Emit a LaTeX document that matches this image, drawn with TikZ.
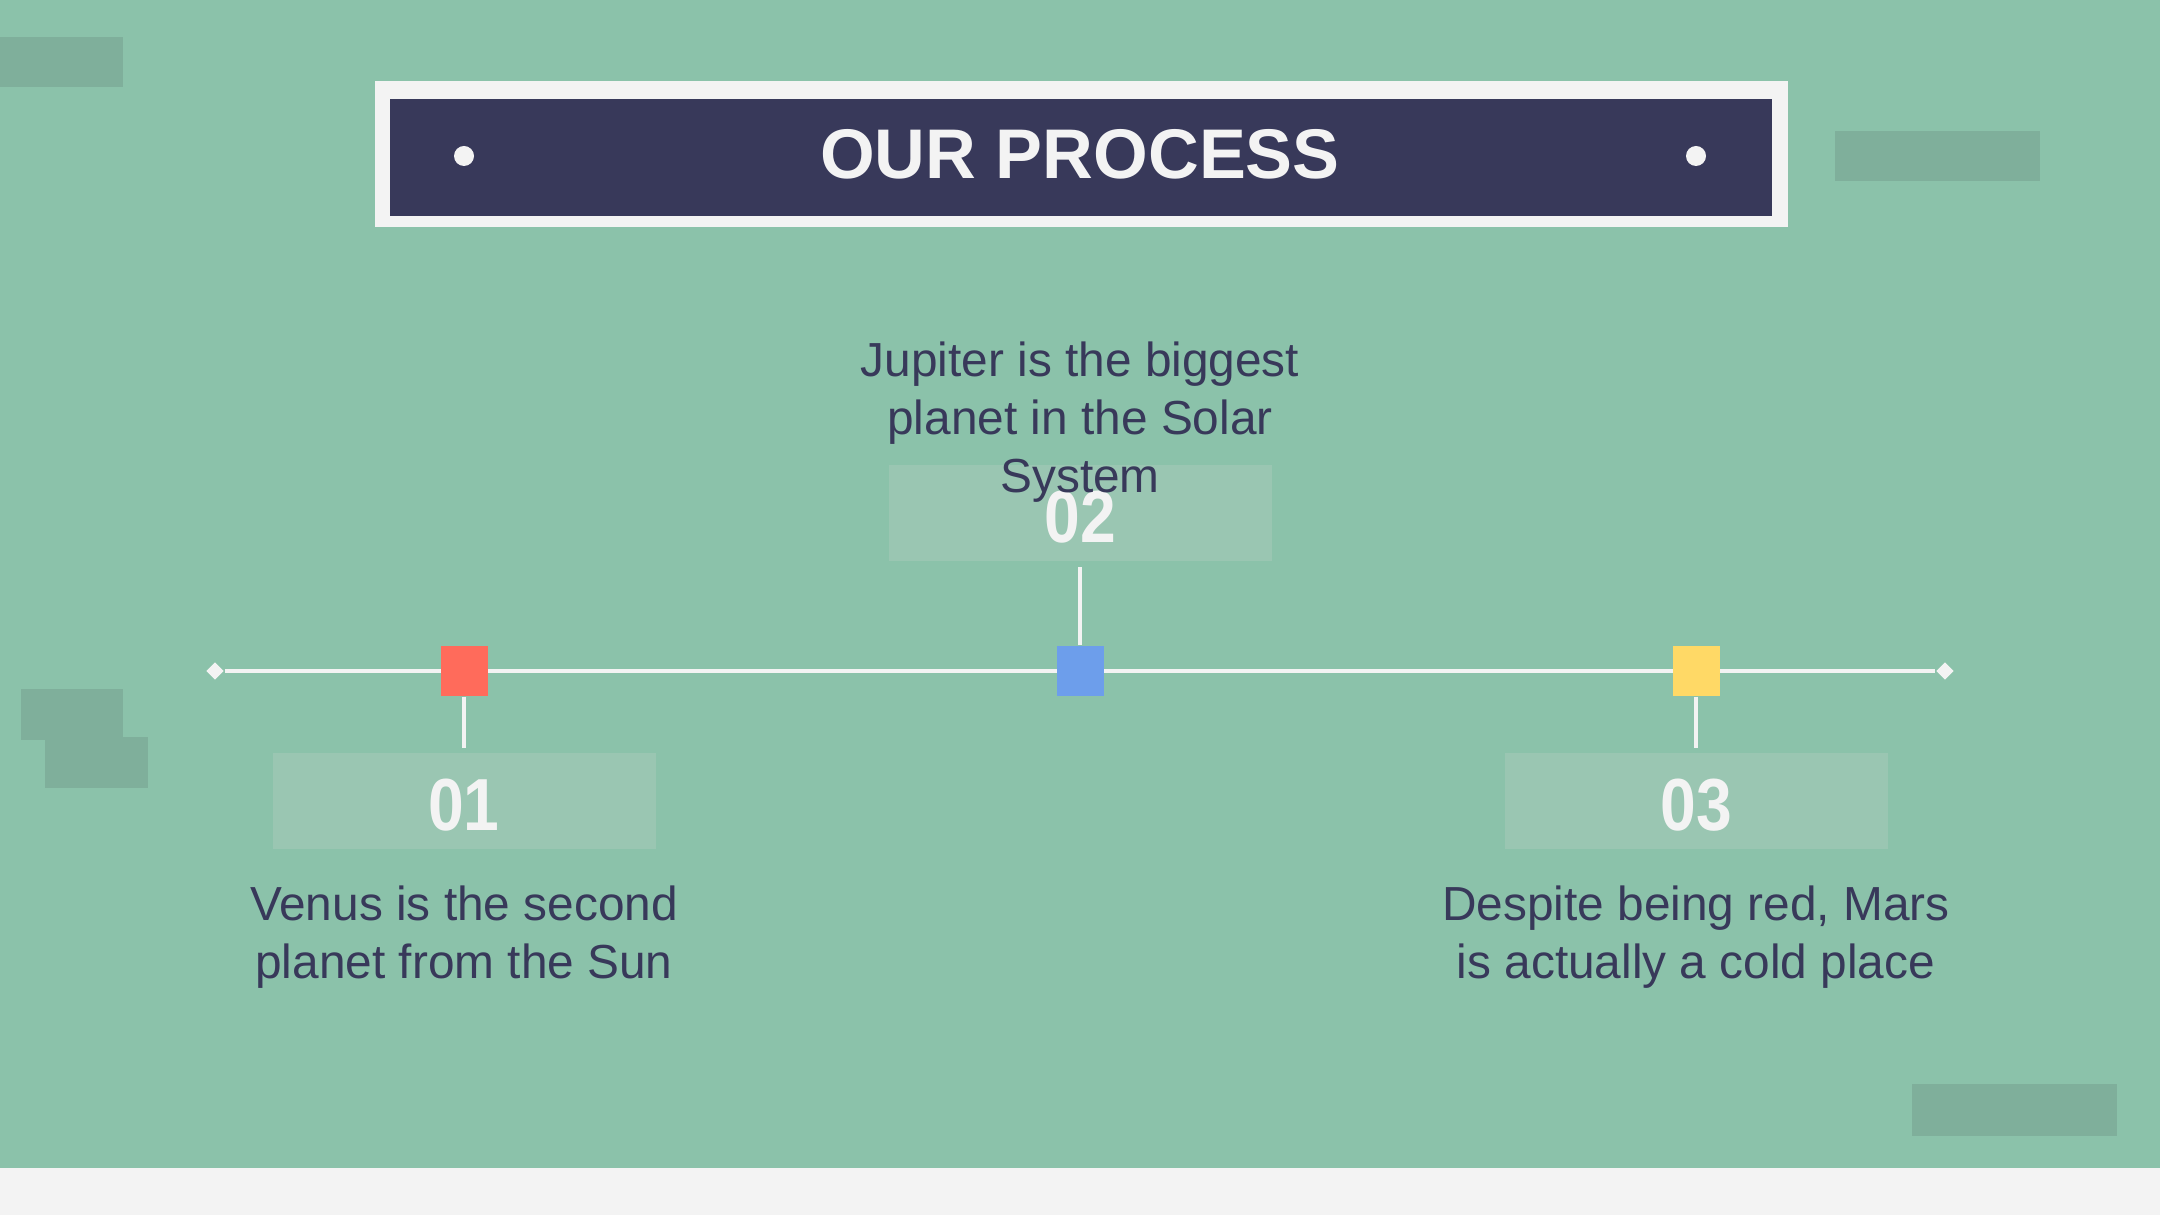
\documentclass[tikz,border=0pt]{standalone}
\usepackage{fontspec}
\usepackage{graphicx}
\setmainfont{Liberation Sans}
\usetikzlibrary{positioning,shapes.geometric}
\definecolor{bggreen}{HTML}{8BC2AA}
\definecolor{tapegreen}{HTML}{7FAF9B}
\definecolor{boxgreen}{HTML}{9AC6B2}
\definecolor{navy}{HTML}{38395A}
\definecolor{paper}{HTML}{F3F3F3}
\definecolor{flagred}{HTML}{FF6B5B}
\definecolor{flagblue}{HTML}{6D9EEB}
\definecolor{flagyellow}{HTML}{FFD966}
\newcommand{\numtext}[1]{\raisebox{-0.04cm}[\height][0pt]{\scalebox{0.87}[1]{#1}}}
\begin{document}
\begin{tikzpicture}[font=\fontsize{13.6}{16.5}\selectfont,
  tape/.style={fill=tapegreen},
  flag/.style={minimum width=0.47cm,minimum height=0.5cm,inner sep=0pt},
  numbox/.style={fill=boxgreen,minimum width=3.83cm,minimum height=0.96cm,inner sep=0pt,
    text=paper,font=\fontsize{21}{21}\selectfont\bfseries},
  desc/.style={text=navy,align=center,inner sep=0pt},
  tip/.style={diamond,fill=paper,minimum size=0.18cm,inner sep=0pt},
  stem/.style={draw=paper,line width=1.2pt}]
  \useasboundingbox (0,0) rectangle (21.6,12.15);
  % 背景
  \fill[bggreen] (0,0.47) rectangle (21.6,12.15);
  \fill[paper] (0,0) rectangle (21.6,0.47);
  % 装饰胶带
  \fill[tape] (0,11.28) rectangle (1.23,11.78);
  \fill[tape] (0.21,4.75) rectangle (1.23,5.26);
  \fill[tape] (0.45,4.27) rectangle (1.48,4.78);
  \fill[tape] (18.35,10.34) rectangle (20.40,10.84);
  \fill[tape] (19.12,0.79) rectangle (21.17,1.31);
  % 标题
  \fill[paper] (3.75,9.88) rectangle (17.88,11.34);
  \fill[navy] (3.90,9.99) rectangle (17.72,11.16);
  \fill[paper] (4.64,10.59) circle (0.1);
  \fill[paper] (16.96,10.59) circle (0.1);
  \node[text=paper,font=\fontsize{20}{20}\selectfont\bfseries] (title) at (10.80,10.61) {OUR PROCESS};
  % 时间轴
  \node[tip] (left) at (2.15,5.44) {};
  \node[tip] (right) at (19.45,5.44) {};
  \draw[stem] (left) -- (right);
  \node[flag,fill=flagred] (f1) at (4.64,5.44) {};
  \node[flag,fill=flagblue] (f2) at (10.80,5.44) {};
  \node[flag,fill=flagyellow] (f3) at (16.96,5.44) {};
  % 编号框
  \node[numbox] (n1) at (4.64,4.14) {\numtext{01}};
  \node[numbox] (n2) at (10.80,7.02) {\numtext{02}};
  \node[numbox] (n3) at (16.96,4.14) {\numtext{03}};
  \draw[stem,shorten >=0.04cm] (f1) -- (n1);
  \draw[stem,shorten >=0.05cm] (f2) -- (n2);
  \draw[stem,shorten >=0.04cm] (f3) -- (n3);
  % 说明文字
  \node[desc,below=0.35cm of n1] (d1) {Venus is the second\\planet from the Sun};
  \node[desc] (d2) at (10.80,7.93) {Jupiter is the biggest\\planet in the Solar\\System};
  \node[desc,below=0.35cm of n3] (d3) {Despite being red, Mars\\is actually a cold place};
\end{tikzpicture}
\end{document}
